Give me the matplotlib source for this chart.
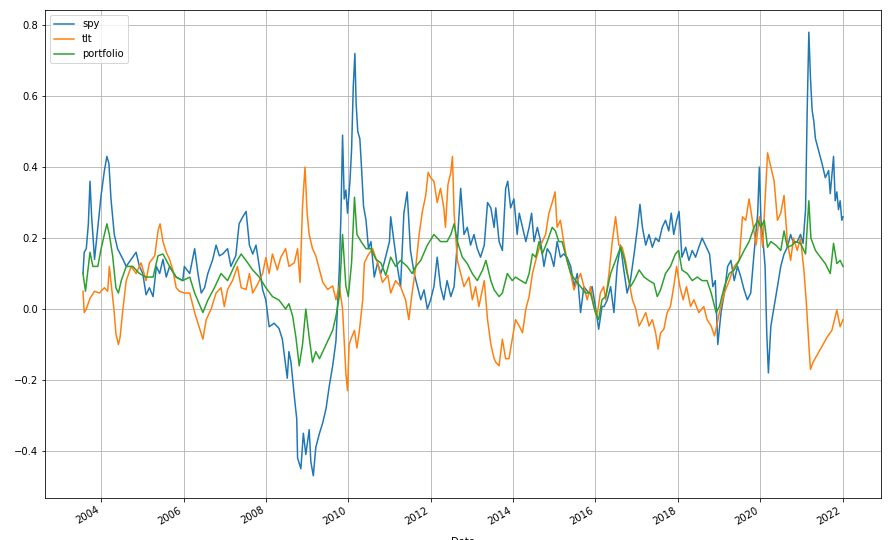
import matplotlib
matplotlib.use('Agg')
import matplotlib.pyplot as plt
import matplotlib.dates as mdates
import pandas as pd

# Rolling 1-year returns (decimal year, value)
spy_years = [
    2003.56, 2003.59, 2003.64, 2003.69, 2003.73, 2003.77, 2003.80, 2003.84, 2003.92, 2004.00,
    2004.08, 2004.14, 2004.19, 2004.24, 2004.32, 2004.40, 2004.53, 2004.61, 2004.73, 2004.85,
    2004.93, 2005.01, 2005.09, 2005.17, 2005.26, 2005.34, 2005.42, 2005.50, 2005.58, 2005.66,
    2005.82, 2005.98, 2006.02, 2006.15, 2006.27, 2006.35, 2006.43, 2006.51, 2006.59, 2006.71,
    2006.79, 2006.87, 2006.95, 2007.07, 2007.15, 2007.27, 2007.35, 2007.44, 2007.52, 2007.60,
    2007.68, 2007.76, 2007.84, 2007.92, 2008.00, 2008.08, 2008.20, 2008.32, 2008.40, 2008.48,
    2008.52, 2008.56, 2008.61, 2008.69, 2008.75, 2008.77, 2008.85, 2008.91, 2008.97, 2009.05,
    2009.09, 2009.15, 2009.21, 2009.30, 2009.38, 2009.46, 2009.54, 2009.62, 2009.70, 2009.74,
    2009.78, 2009.82, 2009.86, 2009.90, 2009.94, 2009.98, 2010.04, 2010.08, 2010.12, 2010.16,
    2010.19, 2010.23, 2010.28, 2010.32, 2010.37, 2010.43, 2010.49, 2010.55, 2010.63, 2010.71,
    2010.79, 2010.87, 2011.00, 2011.03, 2011.11, 2011.19, 2011.27, 2011.35, 2011.43, 2011.51,
    2011.60, 2011.68, 2011.76, 2011.84, 2011.92, 2012.00, 2012.08, 2012.16, 2012.24, 2012.32,
    2012.40, 2012.49, 2012.57, 2012.65, 2012.73, 2012.81, 2012.89, 2012.97, 2013.05, 2013.13,
    2013.21, 2013.30, 2013.38, 2013.46, 2013.54, 2013.58, 2013.66, 2013.74, 2013.82, 2013.87,
    2013.94, 2014.02, 2014.10, 2014.15, 2014.23, 2014.31, 2014.39, 2014.45, 2014.51, 2014.59,
    2014.67, 2014.75, 2014.83, 2014.91, 2014.99, 2015.07, 2015.15, 2015.23, 2015.31, 2015.40,
    2015.48, 2015.56, 2015.64, 2015.72, 2015.84, 2015.92, 2016.00, 2016.08, 2016.16, 2016.21,
    2016.29, 2016.37, 2016.45, 2016.53, 2016.61, 2016.69, 2016.77, 2016.85, 2016.94, 2017.02,
    2017.08, 2017.14, 2017.22, 2017.30, 2017.38, 2017.46, 2017.54, 2017.62, 2017.70, 2017.78,
    2017.84, 2017.90, 2017.97, 2018.03, 2018.10, 2018.19, 2018.27, 2018.35, 2018.43, 2018.51,
    2018.59, 2018.67, 2018.77, 2018.85, 2018.91, 2018.97, 2019.05, 2019.13, 2019.21, 2019.29,
    2019.37, 2019.45, 2019.53, 2019.61, 2019.69, 2019.77, 2019.85, 2019.94, 2019.98, 2020.02,
    2020.07, 2020.12, 2020.16, 2020.20, 2020.26, 2020.34, 2020.42, 2020.50, 2020.58, 2020.66,
    2020.74, 2020.81, 2020.90, 2020.98, 2021.04, 2021.10, 2021.14, 2021.18, 2021.22, 2021.26,
    2021.30, 2021.34, 2021.42, 2021.50, 2021.58, 2021.66, 2021.70, 2021.78, 2021.82, 2021.86,
    2021.90, 2021.94, 2021.98, 2022.01,
]
spy_values = [
    0.10, 0.16, 0.17, 0.24, 0.36, 0.26, 0.21, 0.14, 0.23, 0.32,
    0.39, 0.43, 0.41, 0.31, 0.21, 0.17, 0.14, 0.12, 0.14, 0.16,
    0.12, 0.10, 0.04, 0.06, 0.035, 0.12, 0.10, 0.14, 0.09, 0.12,
    0.09, 0.08, 0.12, 0.10, 0.17, 0.10, 0.045, 0.06, 0.10, 0.14,
    0.18, 0.15, 0.155, 0.17, 0.12, 0.15, 0.24, 0.26, 0.275, 0.18,
    0.155, 0.18, 0.12, 0.055, 0.025, -0.05, -0.04, -0.055, -0.085, -0.16,
    -0.195, -0.12, -0.15, -0.245, -0.31, -0.42, -0.45, -0.35, -0.41, -0.34,
    -0.43, -0.47, -0.39, -0.35, -0.32, -0.28, -0.215, -0.16, -0.09, 0.015,
    0.11, 0.26, 0.49, 0.31, 0.335, 0.27, 0.36, 0.45, 0.625, 0.72,
    0.58, 0.50, 0.48, 0.40, 0.29, 0.25, 0.17, 0.19, 0.09, 0.13,
    0.10, 0.13, 0.19, 0.26, 0.19, 0.12, 0.063, 0.27, 0.33, 0.165,
    0.10, 0.063, 0.026, 0.054, 0.0, 0.026, 0.063, 0.146, 0.063, 0.026,
    0.08, 0.035, 0.063, 0.19, 0.34, 0.21, 0.23, 0.18, 0.21, 0.17,
    0.146, 0.18, 0.30, 0.285, 0.23, 0.285, 0.19, 0.165, 0.34, 0.36,
    0.285, 0.31, 0.21, 0.27, 0.23, 0.19, 0.23, 0.27, 0.19, 0.23,
    0.19, 0.12, 0.17, 0.155, 0.12, 0.19, 0.146, 0.155, 0.146, 0.12,
    0.063, 0.10, -0.01, 0.063, 0.045, 0.063, 0.007, -0.057, 0.007, 0.007,
    0.026, 0.063, -0.01, 0.12, 0.18, 0.11, 0.045, 0.08, 0.155, 0.23,
    0.295, 0.23, 0.18, 0.21, 0.174, 0.20, 0.19, 0.23, 0.25, 0.22,
    0.27, 0.21, 0.25, 0.275, 0.146, 0.174, 0.137, 0.165, 0.146, 0.174,
    0.20, 0.18, 0.155, 0.063, 0.08, -0.10, -0.01, 0.045, 0.12, 0.137,
    0.08, 0.12, 0.09, 0.054, 0.026, 0.045, 0.155, 0.27, 0.40, 0.25,
    0.19, 0.12, -0.067, -0.18, -0.048, 0.007, 0.063, 0.12, 0.155, 0.174,
    0.21, 0.185, 0.19, 0.21, 0.185, 0.28, 0.56, 0.78, 0.65, 0.56,
    0.53, 0.48, 0.445, 0.41, 0.37, 0.39, 0.325, 0.43, 0.305, 0.33,
    0.28, 0.305, 0.25, 0.26,
]

tlt_years = [
    2003.56, 2003.59, 2003.64, 2003.73, 2003.84, 2003.96, 2004.08, 2004.16, 2004.20, 2004.27,
    2004.32, 2004.36, 2004.42, 2004.46, 2004.53, 2004.61, 2004.73, 2004.85, 2004.97, 2005.09,
    2005.17, 2005.30, 2005.38, 2005.43, 2005.50, 2005.58, 2005.66, 2005.74, 2005.82, 2005.90,
    2006.02, 2006.15, 2006.27, 2006.39, 2006.47, 2006.55, 2006.67, 2006.79, 2006.91, 2006.99,
    2007.07, 2007.19, 2007.31, 2007.40, 2007.52, 2007.60, 2007.68, 2007.80, 2007.92, 2008.00,
    2008.08, 2008.16, 2008.28, 2008.36, 2008.48, 2008.56, 2008.69, 2008.77, 2008.83, 2008.89,
    2008.95, 2009.00, 2009.05, 2009.13, 2009.21, 2009.30, 2009.38, 2009.50, 2009.62, 2009.70,
    2009.78, 2009.86, 2009.90, 2009.94, 2009.98, 2010.02, 2010.08, 2010.15, 2010.21, 2010.27,
    2010.35, 2010.39, 2010.47, 2010.59, 2010.71, 2010.83, 2010.96, 2011.03, 2011.15, 2011.27,
    2011.39, 2011.47, 2011.55, 2011.64, 2011.72, 2011.80, 2011.88, 2011.94, 2012.00, 2012.08,
    2012.16, 2012.24, 2012.32, 2012.36, 2012.42, 2012.49, 2012.53, 2012.57, 2012.65, 2012.73,
    2012.81, 2012.93, 2013.01, 2013.09, 2013.17, 2013.30, 2013.38, 2013.46, 2013.54, 2013.58,
    2013.66, 2013.74, 2013.82, 2013.90, 2013.98, 2014.06, 2014.15, 2014.23, 2014.31, 2014.39,
    2014.47, 2014.55, 2014.63, 2014.71, 2014.79, 2014.87, 2014.95, 2015.02, 2015.07, 2015.15,
    2015.23, 2015.31, 2015.40, 2015.48, 2015.56, 2015.64, 2015.72, 2015.80, 2015.88, 2015.96,
    2016.04, 2016.12, 2016.20, 2016.25, 2016.33, 2016.41, 2016.49, 2016.57, 2016.65, 2016.73,
    2016.81, 2016.90, 2016.98, 2017.06, 2017.14, 2017.22, 2017.30, 2017.38, 2017.46, 2017.52,
    2017.58, 2017.66, 2017.74, 2017.82, 2017.90, 2017.97, 2018.05, 2018.13, 2018.21, 2018.31,
    2018.39, 2018.51, 2018.63, 2018.71, 2018.81, 2018.89, 2019.01, 2019.13, 2019.25, 2019.37,
    2019.49, 2019.57, 2019.65, 2019.73, 2019.81, 2019.90, 2019.98, 2020.06, 2020.14, 2020.18,
    2020.26, 2020.34, 2020.42, 2020.50, 2020.58, 2020.66, 2020.74, 2020.81, 2020.90, 2020.98,
    2021.06, 2021.12, 2021.18, 2021.22, 2021.28, 2021.38, 2021.50, 2021.62, 2021.74, 2021.86,
    2021.94, 2022.01,
]
tlt_values = [
    0.05, -0.01, 0.0, 0.03, 0.05, 0.045, 0.06, 0.05, 0.12, 0.045,
    -0.01, -0.07, -0.10, -0.08, 0.0, 0.08, 0.12, 0.10, 0.13, 0.08,
    0.13, 0.15, 0.22, 0.24, 0.19, 0.16, 0.14, 0.11, 0.06, 0.05,
    0.045, 0.045, -0.01, -0.055, -0.085, -0.03, 0.0, 0.045, 0.06, 0.007,
    0.055, 0.08, 0.12, 0.06, 0.055, 0.10, 0.045, 0.07, 0.10, 0.145,
    0.10, 0.155, 0.11, 0.145, 0.17, 0.12, 0.13, 0.17, 0.075, 0.29,
    0.40, 0.27, 0.21, 0.17, 0.15, 0.11, 0.075, 0.055, 0.065, 0.026,
    0.065, 0.0, -0.09, -0.18, -0.23, -0.10, -0.08, -0.06, -0.11, -0.06,
    0.026, 0.13, 0.15, 0.17, 0.13, 0.075, 0.095, 0.045, 0.08, 0.063,
    0.026, -0.03, 0.045, 0.12, 0.21, 0.275, 0.32, 0.385, 0.37, 0.36,
    0.30, 0.34, 0.285, 0.23, 0.35, 0.385, 0.43, 0.27, 0.137, 0.10,
    0.063, 0.09, 0.026, 0.063, 0.007, 0.08, -0.03, -0.10, -0.14, -0.15,
    -0.16, -0.085, -0.14, -0.14, -0.085, -0.03, -0.048, -0.067, 0.0, 0.035,
    0.10, 0.137, 0.17, 0.19, 0.21, 0.27, 0.30, 0.33, 0.23, 0.25,
    0.19, 0.137, 0.10, 0.054, 0.08, 0.10, 0.063, 0.026, 0.063, 0.007,
    -0.02, 0.045, 0.063, 0.026, 0.10, 0.19, 0.26, 0.18, 0.174, 0.137,
    0.08, 0.026, 0.0, -0.048, -0.03, -0.01, -0.048, -0.03, -0.067, -0.113,
    -0.067, -0.057, -0.01, 0.007, 0.063, 0.12, 0.063, 0.026, 0.063, 0.007,
    0.026, -0.01, 0.007, -0.03, -0.048, -0.076, -0.01, 0.045, 0.08, 0.12,
    0.137, 0.26, 0.25, 0.31, 0.25, 0.18, 0.26, 0.174, 0.35, 0.44,
    0.40, 0.36, 0.25, 0.27, 0.32, 0.19, 0.137, 0.20, 0.165, 0.20,
    0.11, 0.016, -0.10, -0.17, -0.15, -0.13, -0.105, -0.08, -0.06, -0.003,
    -0.05, -0.03,
]

portfolio_years = [
    2003.56, 2003.62, 2003.73, 2003.80, 2003.92, 2004.00, 2004.14, 2004.20, 2004.28, 2004.36,
    2004.42, 2004.49, 2004.61, 2004.77, 2004.93, 2005.09, 2005.26, 2005.38, 2005.50, 2005.66,
    2005.82, 2005.98, 2006.15, 2006.27, 2006.47, 2006.59, 2006.75, 2006.91, 2007.07, 2007.27,
    2007.40, 2007.56, 2007.68, 2007.84, 2008.00, 2008.16, 2008.32, 2008.48, 2008.56, 2008.65,
    2008.73, 2008.81, 2008.89, 2008.97, 2009.05, 2009.13, 2009.21, 2009.30, 2009.38, 2009.46,
    2009.54, 2009.62, 2009.70, 2009.78, 2009.86, 2009.94, 2010.00, 2010.08, 2010.15, 2010.21,
    2010.31, 2010.43, 2010.55, 2010.67, 2010.79, 2010.91, 2011.03, 2011.15, 2011.27, 2011.43,
    2011.55, 2011.64, 2011.76, 2011.92, 2012.08, 2012.24, 2012.40, 2012.49, 2012.57, 2012.65,
    2012.77, 2012.89, 2013.01, 2013.13, 2013.26, 2013.34, 2013.46, 2013.54, 2013.66, 2013.74,
    2013.86, 2013.98, 2014.06, 2014.19, 2014.31, 2014.39, 2014.47, 2014.55, 2014.63, 2014.71,
    2014.83, 2014.95, 2015.03, 2015.11, 2015.19, 2015.27, 2015.40, 2015.52, 2015.64, 2015.76,
    2015.88, 2016.00, 2016.08, 2016.16, 2016.25, 2016.37, 2016.49, 2016.61, 2016.69, 2016.77,
    2016.85, 2016.94, 2017.06, 2017.18, 2017.30, 2017.42, 2017.50, 2017.58, 2017.70, 2017.82,
    2017.94, 2018.02, 2018.10, 2018.23, 2018.35, 2018.47, 2018.59, 2018.71, 2018.81, 2018.93,
    2019.01, 2019.13, 2019.25, 2019.37, 2019.49, 2019.61, 2019.73, 2019.85, 2019.94, 2020.02,
    2020.10, 2020.18, 2020.26, 2020.38, 2020.50, 2020.58, 2020.66, 2020.78, 2020.85, 2020.98,
    2021.10, 2021.18, 2021.23, 2021.34, 2021.46, 2021.58, 2021.70, 2021.78, 2021.86, 2021.94,
    2022.01,
]
portfolio_values = [
    0.10, 0.05, 0.16, 0.12, 0.12, 0.17, 0.24, 0.21, 0.15, 0.06,
    0.045, 0.08, 0.12, 0.12, 0.10, 0.09, 0.09, 0.15, 0.155, 0.12,
    0.09, 0.08, 0.09, 0.045, -0.01, 0.025, 0.06, 0.10, 0.08, 0.13,
    0.155, 0.13, 0.11, 0.09, 0.06, 0.035, 0.025, 0.0, 0.015, -0.02,
    -0.08, -0.16, -0.10, 0.0, -0.08, -0.15, -0.12, -0.14, -0.12, -0.10,
    -0.08, -0.06, -0.02, 0.035, 0.21, 0.065, 0.035, 0.13, 0.315, 0.21,
    0.19, 0.17, 0.17, 0.14, 0.13, 0.095, 0.146, 0.12, 0.137, 0.12,
    0.10, 0.12, 0.137, 0.18, 0.21, 0.19, 0.19, 0.21, 0.24, 0.19,
    0.146, 0.128, 0.10, 0.08, 0.11, 0.137, 0.08, 0.054, 0.035, 0.045,
    0.10, 0.08, 0.09, 0.08, 0.072, 0.10, 0.155, 0.146, 0.19, 0.155,
    0.19, 0.23, 0.22, 0.19, 0.19, 0.155, 0.10, 0.08, 0.063, 0.045,
    0.045, -0.01, -0.03, 0.026, 0.035, 0.10, 0.137, 0.174, 0.146, 0.10,
    0.063, 0.08, 0.11, 0.09, 0.08, 0.072, 0.035, 0.054, 0.10, 0.12,
    0.155, 0.165, 0.11, 0.10, 0.08, 0.09, 0.08, 0.08, 0.045, -0.01,
    0.007, 0.063, 0.10, 0.11, 0.137, 0.165, 0.19, 0.23, 0.25, 0.23,
    0.25, 0.174, 0.19, 0.18, 0.165, 0.22, 0.174, 0.18, 0.19, 0.185,
    0.155, 0.305, 0.20, 0.165, 0.146, 0.128, 0.10, 0.185, 0.128, 0.137,
    0.12,
]


def to_dates(years):
    # decimal year -> timestamp
    return [pd.Timestamp(int(y), 1, 1) + pd.Timedelta(days=(y - int(y)) * 365.25) for y in years]


fig = plt.figure(figsize=(892 / 72, 540 / 72), dpi=72)
ax = fig.add_axes([45 / 892, 1 - 498 / 540, (881 - 45) / 892, (498 - 10) / 540])

ax.plot(to_dates(spy_years), spy_values, color='#1f77b4', linewidth=1.5, label='spy')
ax.plot(to_dates(tlt_years), tlt_values, color='#ff7f0e', linewidth=1.5, label='tlt')
ax.plot(to_dates(portfolio_years), portfolio_values, color='#2ca02c', linewidth=1.5, label='portfolio')

ax.xaxis.set_major_locator(mdates.YearLocator(2))
ax.xaxis.set_major_formatter(mdates.DateFormatter('%Y'))
ax.set_yticks([-0.4, -0.2, 0.0, 0.2, 0.4, 0.6, 0.8])
ax.grid(True)
ax.legend(loc='upper left')
# the x label sits mostly below the bottom edge, as in the reference
ax.set_xlabel('Date', labelpad=11)

for lbl in ax.get_xticklabels():
    lbl.set_rotation(30)
    lbl.set_ha('right')

fig.savefig('out.png', dpi=72)
